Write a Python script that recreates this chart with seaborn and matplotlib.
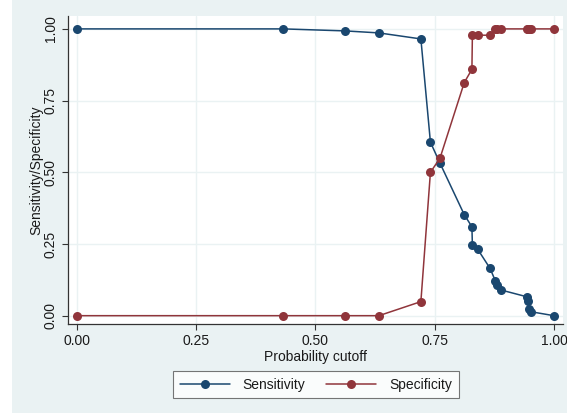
import numpy as np
import pandas as pd
import matplotlib
matplotlib.use("Agg")
import matplotlib.pyplot as plt
import seaborn as sns

# Values (Stata lsens style)
cutoff = [0.0, 0.4325, 0.562, 0.633, 0.721, 0.741, 0.761, 0.812, 0.828, 0.829,
          0.840, 0.866, 0.877, 0.880, 0.888, 0.943, 0.946, 0.947, 0.951, 1.0]
sensitivity = [1.0, 1.0, 0.993, 0.986, 0.965, 0.605, 0.532, 0.352, 0.310, 0.246,
               0.232, 0.165, 0.122, 0.107, 0.090, 0.066, 0.052, 0.022, 0.014, 0.0]
specificity = [0.0, 0.0, 0.0, 0.0, 0.049, 0.500, 0.549, 0.813, 0.859, 0.978,
               0.978, 0.978, 1.0, 1.0, 1.0, 1.0, 1.0, 1.0, 1.0, 1.0]
tick_values = [0.0, 0.25, 0.50, 0.75, 1.0]
tick_labels = ["0.00", "0.25", "0.50", "0.75", "1.00"]

df = pd.DataFrame({"cutoff": cutoff, "Sensitivity": sensitivity, "Specificity": specificity})

sns.set_theme(style="white")
plt.rcParams["font.family"] = ["Liberation Sans", "DejaVu Sans"]

navy = "#1a476f"
maroon = "#90353b"
bg = "#eaf2f3"

fig = plt.figure(figsize=(5.67, 4.16), dpi=100)
fig.patch.set_facecolor("white")
# outer light bluish-gray graph region (behind the axes)
fig.patches.append(plt.Rectangle((12 / 567, 3.3 / 416), 1 - 12 / 567, 1 - 3.3 / 416,
                                 transform=fig.transFigure, facecolor=bg,
                                 edgecolor="none", zorder=-10))

ax = fig.add_axes([67.5 / 567, (416 - 324) / 416, (563 - 67.5) / 567, (324 - 15.7) / 416])
ax.set_zorder(1)
ax.set_facecolor("white")

sns.lineplot(data=df, x="cutoff", y="Sensitivity", ax=ax, color=navy, marker="o",
             markersize=6.5, markeredgewidth=0, linewidth=1.1, sort=False,
             estimator=None, label="Sensitivity", zorder=3)
sns.lineplot(data=df, x="cutoff", y="Specificity", ax=ax, color=maroon, marker="o",
             markersize=6.5, markeredgewidth=0, linewidth=1.1, sort=False,
             estimator=None, label="Specificity", zorder=3)

ax.set_xlim(-0.02, 1.019)
ax.set_ylim(-0.029, 1.046)
ax.set_xticks(tick_values)
ax.set_xticklabels(tick_labels)
ax.set_yticks(tick_values)
ax.set_yticklabels(tick_labels, rotation=90, va="center")
ax.grid(True, color=bg, linewidth=1.0)
ax.set_axisbelow(True)

for side in ["top", "right"]:
    ax.spines[side].set_visible(False)
for side in ["left", "bottom"]:
    ax.spines[side].set_color("#333333")
    ax.spines[side].set_linewidth(0.9)

ax.tick_params(axis="both", which="major", direction="out", length=4, width=0.8,
               color="#333333", labelsize=10, labelcolor="#1a1a1a", pad=3,
               bottom=True, left=True)
ax.set_xlabel("Probability cutoff", fontsize=10, color="#1a1a1a", labelpad=2)
ax.set_ylabel("Sensitivity/Specificity", fontsize=10, color="#1a1a1a", labelpad=0)

handles, labels = ax.get_legend_handles_labels()
ax.get_legend().remove()
leg = fig.legend(handles, labels, loc="center", bbox_to_anchor=(316 / 567, 1 - 384.5 / 416),
                 ncol=2, fontsize=10, frameon=True, fancybox=False, numpoints=1,
                 handlelength=3.6, columnspacing=1.5, handletextpad=0.9,
                 borderpad=0.5, labelcolor="#1a1a1a")
leg.get_frame().set_edgecolor("#555555")
leg.get_frame().set_linewidth(0.8)
leg.get_frame().set_facecolor("white")

fig.savefig("out.png", dpi=100, facecolor=fig.get_facecolor())
